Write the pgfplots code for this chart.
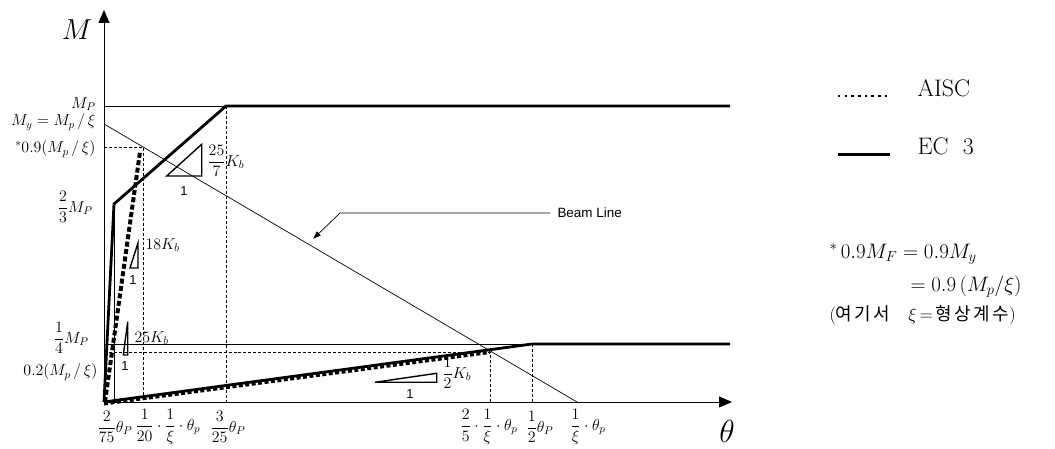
\RequirePackage{fix-cm}
\documentclass[border=0pt]{standalone}
\usepackage{amsmath}
\usepackage{pgfplots}
\pgfplotsset{compat=1.18}
\usetikzlibrary{arrows.meta}
\usepackage{fontspec}
\newfontfamily\kr{Noto Sans CJK KR}[LetterSpace=14]
\newfontfamily\arial{Liberation Sans}
\newcommand\lab{\fontsize{16}{18}\selectfont}

\begin{document}
\begin{tikzpicture}
\begin{axis}[
  x=1bp, y=1bp,
  xmin=0, xmax=628, ymin=0, ymax=392,
  axis lines=left,
  axis line style={line width=0.8pt, -{Triangle[length=13pt,width=11pt]}},
  xtick=\empty, ytick=\empty,
  clip=false,
  every axis plot/.append style={no marks},
]
% page extent
\path (axis cs:-104,-47) rectangle (axis cs:951,402);

% thin reference lines
\addplot[line width=0.7pt] coordinates {(0,296) (122,296)};
\addplot[line width=0.7pt] coordinates {(0,58) (428,58)};
\addplot[line width=0.7pt] coordinates {(10,198) (10,0)};
\addplot[line width=0.7pt] coordinates {(0,278) (473,0)};
% dashed guides
\addplot[line width=0.8pt, dash pattern=on 3pt off 2pt] coordinates {(0,255) (39,255) (39,0)};
\addplot[line width=0.8pt, dash pattern=on 3pt off 2pt] coordinates {(0,50) (386,50) (386,0)};
\addplot[line width=0.8pt, dash pattern=on 3pt off 2pt] coordinates {(122,296) (122,0)};
\addplot[line width=0.8pt, dash pattern=on 3pt off 2pt] coordinates {(428,58) (428,0)};

% AISC
\addplot[line width=4pt, dash pattern=on 5pt off 2.5pt] coordinates {(1,0) (36,250)};
\addplot[line width=4pt, dash pattern=on 4pt off 2.5pt] coordinates {(0,-1.5) (386,50)};
% EC 3
\addplot[line width=2.8pt, line join=miter] coordinates {(0,0) (10,198) (122,296) (626,296)};
\addplot[line width=2.8pt, line join=miter] coordinates {(0,0) (428,58) (626,58)};

% slope triangles
\addplot[line width=1.4pt] coordinates {(62.7,226) (97.7,257.7) (97.7,226)} -- cycle;
\addplot[line width=1.4pt] coordinates {(26,134) (34,159) (34,134)} -- cycle;
\addplot[line width=1.4pt] coordinates {(19.3,47) (23.7,80.3) (23.7,47)} -- cycle;
\addplot[line width=1.4pt] coordinates {(271,19.7) (332.7,28.7) (332.7,19.7)} -- cycle;

% beam line leader
\addplot[line width=0.7pt, -{Latex[length=8pt,width=6pt]}] coordinates {(446,189) (236,189) (209,163)};
\node[anchor=west, font=\arial\fontsize{13.5}{15}\selectfont] at (axis cs:450,189) {Beam Line};

% triangle labels
\node[font=\arial\fontsize{13}{15}\selectfont] at (axis cs:80,211) {1};
\node[anchor=west, font=\lab] at (axis cs:100,241) {$\dfrac{25}{7}K_b$};
\node[font=\arial\fontsize{13}{15}\selectfont] at (axis cs:29,122) {1};
\node[anchor=west, font=\lab] at (axis cs:38,157) {$18K_b$};
\node[font=\arial\fontsize{13}{15}\selectfont] at (axis cs:21,36) {1};
\node[anchor=west, font=\lab] at (axis cs:27,64) {$25K_b$};
\node[font=\arial\fontsize{13}{15}\selectfont] at (axis cs:306,8) {1};
\node[anchor=west, font=\lab] at (axis cs:335,29) {$\dfrac{1}{2}K_b$};

% y labels
\node[anchor=east, font=\lab] at (axis cs:-5,298) {$M_P$};
\node[anchor=east, font=\lab] at (axis cs:-5,280) {$M_y = M_p\,/\,\xi$};
\node[anchor=east, font=\lab] at (axis cs:-5,253) {${}^*0.9(M_p\,/\,\xi)$};
\node[anchor=east, font=\lab] at (axis cs:-8,195) {$\dfrac{2}{3}M_P$};
\node[anchor=east, font=\lab] at (axis cs:-12,64) {$\dfrac{1}{4}M_P$};
\node[anchor=east, font=\lab] at (axis cs:-3,30) {$0.2(M_p\,/\,\xi)$};

% x labels
\node[font=\lab] at (axis cs:11,-25) {$\dfrac{2}{75}\theta_P$};
\node[font=\lab] at (axis cs:64,-25) {$\dfrac{1}{20}\cdot\dfrac{1}{\xi}\cdot\theta_p$};
\node[font=\lab] at (axis cs:124,-25) {$\dfrac{3}{25}\theta_P$};
\node[font=\lab] at (axis cs:385,-25) {$\dfrac{2}{5}\cdot\dfrac{1}{\xi}\cdot\theta_p$};
\node[font=\lab] at (axis cs:436,-25) {$\dfrac{1}{2}\theta_P$};
\node[font=\lab] at (axis cs:484,-25) {$\dfrac{1}{\xi}\cdot\theta_p$};

% axis titles
\node[font=\fontsize{29}{31}\selectfont] at (axis cs:-27,372) {$M$};
\node[font=\fontsize{32}{34}\selectfont] at (axis cs:623,-29) {$\theta$};

% legend
\addplot[line width=2.5pt, dash pattern=on 2.5pt off 4.2pt] coordinates {(734,306) (784,306)};
\node[anchor=west, font=\fontsize{24}{26}\selectfont] at (axis cs:810,314) {AISC};
\addplot[line width=3pt] coordinates {(734,247) (786,247)};
\node[anchor=west, font=\fontsize{24}{26}\selectfont] at (axis cs:810,256) {EC\ \ 3};

% note
\node[anchor=west, font=\fontsize{21}{23}\selectfont] at (axis cs:722,148) {$^*\,0.9M_F = 0.9M_y$};
\node[anchor=west, font=\fontsize{21}{23}\selectfont] at (axis cs:803,115) {$= 0.9\,(M_p/\xi)$};
\node[anchor=west, font=\fontsize{18}{20}\selectfont] at (axis cs:722,87) {({\kr 여기서}\quad$\xi$\,=\,{\kr 형상계수})};
\end{axis}
\end{tikzpicture}
\end{document}
